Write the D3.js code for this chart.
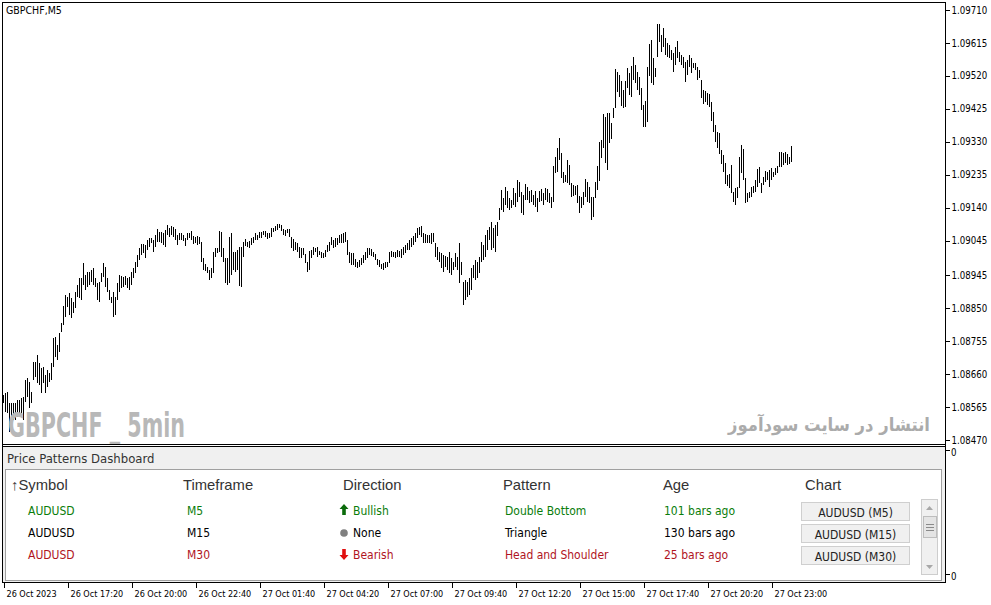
<!DOCTYPE html>
<html><head><meta charset="utf-8">
<script src="https://cdn.jsdelivr.net/npm/d3@7"></script>
<style>
body{margin:0;background:#fff;}
svg{display:block;}
.mt{font-family:'DejaVu Sans Condensed','DejaVu Sans',sans-serif;font-stretch:condensed;}
</style>
</head><body>
<svg id="c" width="991" height="605"></svg>
<script>
// GBPCHF M5 bars: high / low in price points (1 point = 0.00001)
const highPts = [
108600,108606,108608,108577,108577,108577,108577,108585,108585,108591,108594,108643,108649,108637,108608,108695,108695,108715,108692,108678,
108681,108658,108672,108663,108692,108764,108767,108744,108779,108807,108857,108888,108882,108894,108880,108868,108897,108917,108937,108937,
108980,108946,108954,108954,108960,108966,108937,108923,108926,108952,108980,108969,108937,108903,108882,108897,108882,108923,108946,108943,
108940,108943,108937,108940,108954,108966,108983,109004,109024,109035,109035,109032,109047,109053,109053,109047,109061,109079,109070,109070,
109067,109076,109090,109081,109087,109084,109079,109061,109067,109067,109061,109053,109067,109067,109073,109058,109056,109058,109056,109041,
108995,108978,108969,108960,108966,109012,109024,109024,109073,109070,109024,108995,108995,109056,109067,109012,109012,109018,109027,109027,
109041,109050,109041,109044,109053,109056,109067,109061,109070,109070,109073,109073,109067,109067,109081,109081,109087,109093,109093,109090,
109079,109076,109079,109079,109056,109050,109041,109038,109027,109024,109024,109006,108983,109015,109018,109027,109024,109027,109015,109012,
109009,109018,109032,109041,109056,109047,109053,109053,109061,109064,109067,109070,109047,109012,109009,109009,108992,108983,108989,108995,
109004,109012,109024,109024,109021,109012,109006,108992,108989,108978,108980,108983,108983,109012,109015,109012,109012,109018,109015,109021,
109027,109032,109038,109047,109053,109058,109067,109081,109084,109087,109067,109064,109061,109061,109067,109067,109038,109027,109012,109009,
109004,109001,108998,109012,108995,108983,109009,108998,109038,108983,108926,108931,108926,108937,108966,108975,108989,108983,108998,109041,
109032,109061,109076,109084,109099,109081,109090,109099,109139,109191,109168,109200,109188,109168,109162,109197,109182,109220,109214,109185,
109177,109208,109200,109188,109191,109177,109188,109168,109188,109194,109182,109197,109194,109182,109171,109260,109286,109312,109341,109298,
109243,109234,109278,109263,109211,109205,109203,109205,109174,109171,109185,109223,109214,109200,109171,109171,109214,109260,109329,109335,
109410,109402,109413,109413,109384,109428,109540,109531,109523,109505,109479,109505,109543,109529,109549,109575,109552,109531,109517,109485,
109436,109448,109546,109612,109624,109572,109543,109670,109670,109638,109658,109629,109615,109609,109595,109586,109604,109621,109589,109580,
109575,109560,109566,109580,109572,109557,109557,109546,109537,109508,109479,109477,109471,109468,109445,109416,109379,109358,109355,109306,
109292,109269,109234,109237,109263,109185,109197,109200,109286,109321,109309,109226,109182,109185,109200,109203,109220,109252,109257,109211,
109228,109246,109243,109249,109254,109243,109254,109260,109301,109301,109298,109301,109295,109286,109318
];
const lowPts = [
108577,108551,108548,108493,108522,108528,108528,108536,108548,108536,108528,108580,108594,108562,108577,108643,108652,108634,108629,108606,
108634,108606,108623,108637,108643,108681,108709,108701,108724,108782,108802,108825,108854,108831,108822,108836,108851,108882,108880,108874,
108917,108903,108911,108917,108926,108917,108911,108874,108868,108926,108940,108911,108897,108874,108865,108825,108831,108874,108897,108908,
108911,108917,108908,108903,108917,108937,108952,108969,108989,109004,109009,108995,109018,109027,109038,109012,109027,109041,109041,109038,
109032,109027,109061,109056,109061,109056,109047,109032,109047,109047,109044,109030,109047,109053,109047,109035,109038,109032,109035,108983,
108960,108957,108952,108931,108937,108952,108998,109009,109012,108998,108983,108923,108917,108923,108946,108960,108954,108960,108914,108911,
108998,109030,109027,109024,109032,109038,109047,109047,109053,109053,109061,109056,109050,109053,109056,109070,109073,109076,109081,109073,
109061,109058,109067,109056,109024,109015,109018,109012,108995,108995,109004,108980,108954,108960,108995,109004,109012,108998,109004,108995,
108995,108998,109012,109015,109032,109024,109027,109032,109038,109038,109038,109041,109004,108980,108975,108975,108969,108966,108969,108975,
108980,108989,108995,109004,109001,108998,108989,108975,108969,108963,108960,108966,108969,108980,108998,108998,108995,108998,108998,108995,
109004,109009,109018,109018,109027,109032,109041,109053,109061,109056,109038,109038,109038,109038,109035,109041,108998,108989,108983,108966,
108954,108969,108960,108952,108946,108960,108969,108960,108923,108946,108859,108874,108882,108888,108903,108937,108931,108937,108952,108983,
108989,108998,109018,109047,109018,109024,109012,109058,109105,109133,109128,109148,109139,109133,109139,109148,109142,109156,109171,109125,
109119,109162,109162,109153,109156,109148,109142,109128,109156,109159,109148,109162,109156,109153,109139,109156,109240,109243,109278,109226,
109211,109214,109211,109205,109171,109174,109177,109153,109125,109139,109148,109171,109156,109153,109105,109113,109168,109191,109217,109283,
109312,109269,109249,109327,109338,109399,109428,109474,109459,109433,109428,109430,109485,109465,109459,109508,109500,109479,109465,109422,
109373,109373,109387,109520,109500,109494,109517,109575,109618,109589,109604,109580,109575,109572,109566,109531,109552,109572,109560,109552,
109543,109502,109523,109546,109529,109543,109537,109508,109514,109456,109439,109445,109436,109430,109390,109358,109329,109312,109295,109266,
109243,109208,109203,109197,109182,109156,109148,109168,109197,109240,109220,109153,109156,109168,109171,109182,109185,109200,109211,109182,
109205,109214,109220,109200,109220,109228,109234,109240,109257,109257,109263,109269,109263,109266,109272
];
const priceTicks = [1.09710,1.09615,1.09520,1.09425,1.09330,1.09235,1.09140,1.09045,1.08945,1.08850,1.08755,1.08660,1.08565,1.08470];
const timeTickIdx = [0,32,64,96,128,160,192,224,256,288,320,352,384];
const timeLabels = ["26 Oct 2023","26 Oct 17:20","26 Oct 20:00","26 Oct 22:40","27 Oct 01:40","27 Oct 04:20","27 Oct 07:00","27 Oct 09:40","27 Oct 12:20","27 Oct 15:00","27 Oct 17:40","27 Oct 20:20","27 Oct 23:00"];
const chartTitle = "GBPCHF,M5";
const watermarkEn = "GBPCHF _ 5min";
const watermarkFa = "انتشار در سایت سودآموز";
const dashTitle = "Price Patterns Dashboard";
const dashHeaders = ["↑Symbol","Timeframe","Direction","Pattern","Age","Chart"];
const symbols = ["AUDUSD","AUDUSD","AUDUSD"];
const timeframes = ["M5","M15","M30"];
const directions = ["Bullish","None","Bearish"];
const patterns = ["Double Bottom","Triangle","Head and Shoulder"];
const ages = ["101 bars ago","130 bars ago","25 bars ago"];
const buttons = ["AUDUSD (M5)","AUDUSD (M15)","AUDUSD (M30)"];

const bars = highPts.map((h,i)=>({i, high:h/1e5, low:lowPts[i]/1e5}));
const svg = d3.select("#c");
const x = d3.scaleLinear().domain([0, bars.length-1]).range([3, 3 + 2*(bars.length-1)]);
const y = d3.scaleLinear().domain([1.08470, 1.09710]).range([440, 10]);

// background
svg.append("rect").attr("width",991).attr("height",605).attr("fill","#fff");

// bars
svg.append("g").attr("shape-rendering","crispEdges").selectAll("rect").data(bars).join("rect")
  .attr("x", d=>x(d.i)).attr("width",1)
  .attr("y", d=>Math.round(y(d.high)))
  .attr("height", d=>Math.max(1, Math.round(y(d.low))-Math.round(y(d.high))))
  .attr("fill","#000");

// title
svg.append("text").attr("class","mt").attr("x",6).attr("y",13.5).attr("font-size",10.5).attr("fill","#000").text(chartTitle);

// watermarks
svg.append("text").attr("x",8).attr("y",437).attr("font-family","'Liberation Sans Narrow','DejaVu Sans Condensed',sans-serif")
  .attr("font-weight","bold").attr("font-size",33).attr("fill","#b8b8b8")
  .attr("textLength",177).attr("lengthAdjust","spacingAndGlyphs").text(watermarkEn);
svg.append("text").attr("x",930).attr("y",431).attr("text-anchor","start").attr("direction","rtl")
  .attr("font-family","'DejaVu Sans',sans-serif").attr("font-weight","bold").attr("font-size",18)
  .attr("fill","#ababab").attr("textLength",202).attr("lengthAdjust","spacingAndGlyphs").text(watermarkFa);

// dashboard panel
const dash = svg.append("g");
dash.append("rect").attr("x",3).attr("y",447).attr("width",942).attr("height",135).attr("fill","#f0f0f0");
dash.append("rect").attr("x",5.5).attr("y",469.5).attr("width",936).attr("height",111).attr("fill","#fff").attr("stroke","#a0a0a0");
dash.append("text").attr("class","mt").attr("x",7).attr("y",463).attr("font-size",13).attr("fill","#333").text(dashTitle);
const colX = [11,183,343,503,663,805];
dash.selectAll("text.hdr").data(dashHeaders).join("text").attr("class","hdr")
  .attr("x",(d,i)=>colX[i]).attr("y",490).attr("font-family","'Liberation Sans',Arial,sans-serif")
  .attr("font-size",14.8).attr("fill","#333").text(d=>d);
const rowCol = ["#0a7d0a","#000","#b0141e"];
const rowY = [515,537,559];
const rows = dash.selectAll("g.row").data(symbols.map((s,i)=>i)).join("g").attr("class","row");
rows.append("text").attr("class","mt").attr("x",28).attr("y",i=>rowY[i]).attr("font-size",12).attr("fill",i=>rowCol[i]).text(i=>symbols[i]);
rows.append("text").attr("class","mt").attr("x",187).attr("y",i=>rowY[i]).attr("font-size",12).attr("fill",i=>rowCol[i]).text(i=>timeframes[i]);
rows.append("text").attr("class","mt").attr("x",353).attr("y",i=>rowY[i]).attr("font-size",12).attr("fill",i=>rowCol[i]).text(i=>directions[i]);
rows.append("text").attr("class","mt").attr("x",505).attr("y",i=>rowY[i]).attr("font-size",12).attr("fill",i=>rowCol[i]).text(i=>patterns[i]);
rows.append("text").attr("class","mt").attr("x",664).attr("y",i=>rowY[i]).attr("font-size",12).attr("fill",i=>rowCol[i]).text(i=>ages[i]);
// direction icons
rows.each(function(i){
  const g = d3.select(this), cy = rowY[i]-5;
  if (directions[i]==="Bullish") {
    g.append("path").attr("d",`M344,${cy-6} L348.5,${cy-1} L345.8,${cy-1} L345.8,${cy+5} L342.2,${cy+5} L342.2,${cy-1} L339.5,${cy-1} Z`).attr("fill","#0b6b0b");
  } else if (directions[i]==="Bearish") {
    g.append("path").attr("d",`M344,${cy+6} L348.5,${cy+1} L345.8,${cy+1} L345.8,${cy-5} L342.2,${cy-5} L342.2,${cy+1} L339.5,${cy+1} Z`).attr("fill","#e01010");
  } else {
    g.append("circle").attr("cx",344).attr("cy",cy+1).attr("r",3.8).attr("fill","#808080");
  }
});
// buttons
const btnY = [502.5,524.5,546.5];
buttons.forEach((b,i)=>{
  dash.append("rect").attr("x",801.5).attr("y",btnY[i]).attr("width",108).attr("height",18).attr("fill","#f0f0f0").attr("stroke","#cfcfcf");
  dash.append("text").attr("class","mt").attr("x",855.5).attr("y",btnY[i]+14).attr("text-anchor","middle").attr("font-size",12).attr("fill","#222").text(b);
});
// scrollbar
dash.append("rect").attr("x",921.5).attr("y",499.5).attr("width",16).attr("height",75).attr("fill","#f0f0f0").attr("stroke","#cdcdcd");
dash.append("path").attr("d","M926,510 L929.5,506 L933,510 Z").attr("fill","#a8a8a8");
dash.append("path").attr("d","M926,565 L929.5,569 L933,565 Z").attr("fill","#a8a8a8");
dash.append("rect").attr("x",923.5).attr("y",516.5).attr("width",13).attr("height",21).attr("fill","#e4e4e4").attr("stroke","#bdbdbd");
[524,527,530].forEach(v=>dash.append("line").attr("x1",926).attr("x2",934).attr("y1",v+0.5).attr("y2",v+0.5).attr("stroke","#8a8a8a"));

// frames
const fr = svg.append("g").attr("stroke","#000").attr("stroke-width",1).attr("shape-rendering","crispEdges");
[[2,2.5,945,2.5],[2.5,2,2.5,583],[2,444.5,945,444.5],[2,446.5,945,446.5],[2,582.5,946,582.5],[945.5,2,945.5,583]]
  .forEach(l=>fr.append("line").attr("x1",l[0]).attr("y1",l[1]).attr("x2",l[2]).attr("y2",l[3]));

// price axis
const ya = svg.append("g").attr("transform","translate(945.5,0)")
  .call(d3.axisRight(y).tickValues(priceTicks).tickSize(4).tickPadding(2).tickFormat(d3.format(".5f")));
ya.select(".domain").remove();
ya.selectAll("line").attr("stroke","#000").attr("shape-rendering","crispEdges");
ya.selectAll("text").attr("class","mt").attr("font-size",9.6).attr("fill","#000");
// sub window scale labels
[453,577].forEach(v=>{
  svg.append("line").attr("x1",945.5).attr("x2",949.5).attr("y1",v-2.5).attr("y2",v-2.5).attr("stroke","#000").attr("shape-rendering","crispEdges");
  svg.append("text").attr("class","mt").attr("x",951).attr("y",v+3).attr("font-size",9.6).text("0");
});

// time axis
const xa = svg.append("g").attr("transform","translate(0,582.5)")
  .call(d3.axisBottom(x).tickValues(timeTickIdx).tickSize(5).tickFormat((d,i)=>timeLabels[i]));
xa.select(".domain").remove();
xa.selectAll("line").attr("stroke","#000").attr("shape-rendering","crispEdges").attr("transform","translate(0.5,0)");
xa.selectAll("text").attr("class","mt").attr("font-size",9).attr("fill","#000")
  .attr("text-anchor","start").attr("dx",3).attr("y",14).attr("dy",0);
</script>
</body></html>
